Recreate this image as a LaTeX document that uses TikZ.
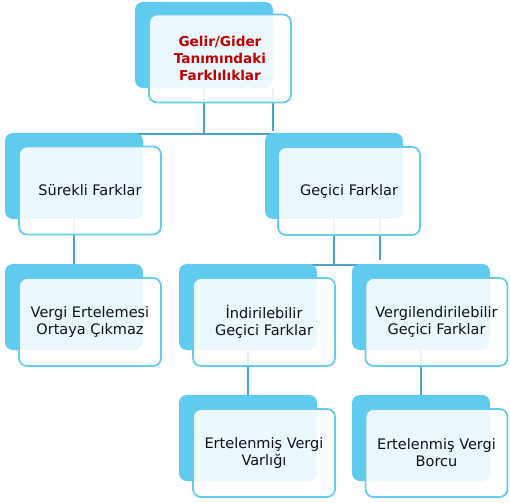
\documentclass[tikz,border=0pt]{standalone}
\usepackage{fontspec}
\setmainfont{DejaVu Sans}
\usetikzlibrary{calc,backgrounds}
\definecolor{backc}{HTML}{5FCBEF}
\definecolor{edgec}{HTML}{66CCEE}
\definecolor{linec}{HTML}{4BA6C6}
\definecolor{titlec}{HTML}{C00000}
\definecolor{txtc}{HTML}{10101E}
\begin{document}
\begin{tikzpicture}[x=1pt,y=-1pt,
  backbox/.style={fill=backc, rounded corners=8pt, minimum width=138pt, minimum height=86pt, inner sep=0pt, draw=none},
  frontbox/.style={draw=edgec, line width=1.8pt, fill=white, fill opacity=0.88, text opacity=1, draw opacity=1,
    rounded corners=8pt, minimum width=142pt, minimum height=88pt, inner sep=0pt, align=center,
    font=\fontsize{14.5}{17}\selectfont, text=txtc},
  titletext/.style={font=\fontsize{13.6}{17}\selectfont\bfseries, text=titlec},
  conn/.style={draw=linec, line width=2pt}]
\useasboundingbox (0,0) rectangle (510,502);

% back shapes
\node[backbox] (topb) at (204,45) {};
\node[backbox] (surb) at (74,176) {};
\node[backbox] (gecb) at (334,176) {};
\node[backbox] (verb) at (74,307) {};
\node[backbox] (indb) at (248,307) {};
\node[backbox] (vglb) at (421,307) {};
\node[backbox] (evb) at (248,438) {};
\node[backbox] (ebb) at (421,438) {};

% front shapes
\node[frontbox, titletext] (top) at (220,58.5) {Gelir/Gider\\Tanımındaki\\Farklılıklar};
\node[frontbox] (sur) at (90,190.5) {Sürekli Farklar};
\node[frontbox] (gec) at (349,191) {Geçici Farklar};
\node[frontbox] (ver) at (90,322) {Vergi Ertelemesi\\Ortaya Çıkmaz};
\node[frontbox] (ind) at (264,322) {İndirilebilir\\Geçici Farklar};
\node[frontbox] (vgl) at (436.5,322) {Vergilendirilebilir\\Geçici Farklar};
\node[frontbox] (ev) at (264,453) {Ertelenmiş Vergi\\Varlığı};
\node[frontbox] (eb) at (436.5,453) {Ertelenmiş Vergi\\Borcu};

% connectors
\begin{pgfonlayer}{background}
  \coordinate (sj) at ($(surb.north)+(0,1.5)$);
  \coordinate (gj1) at ($(gecb.north)+(0,1.5)$);
  \coordinate (tj) at (topb.south |- sj);
  \draw[conn] (topb.south) -- (tj);
  \draw[conn] (sj) -- (gj1);
  \coordinate (t2) at (topb.south east);
  \coordinate (t2e) at ($(t2 |- gecb.north)+(0,-2)$);
  \draw[conn] (t2) -- (t2e);
  \draw[conn] (surb.south) -- (verb.north);
  \coordinate (ij) at ($(indb.north)+(0,1.5)$);
  \coordinate (vj) at ($(vglb.north)+(0,1.5)$);
  \coordinate (gj) at (gecb.south |- ij);
  \draw[conn] (gecb.south) -- (gj);
  \draw[conn] (ij) -- (vj);
  \coordinate (g2) at ($(gecb.south)+(46,0)$);
  \coordinate (g2e) at ($(g2 |- indb.north)+(0,-4)$);
  \draw[conn] (g2) -- (g2e);
  \draw[conn] (indb.south) -- (evb.north);
  \draw[conn] (vglb.south) -- (ebb.north);
\end{pgfonlayer}
\end{tikzpicture}
\end{document}
